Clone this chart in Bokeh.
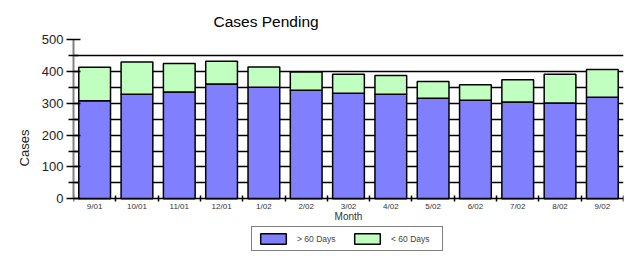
from bokeh.plotting import figure
from bokeh.models import ColumnDataSource, FixedTicker, Range1d
from bokeh.embed import file_html
from bokeh.resources import INLINE

months = ["9/01", "10/01", "11/01", "12/01", "1/02", "2/02", "3/02",
          "4/02", "5/02", "6/02", "7/02", "8/02", "9/02"]
over_60 = [308, 328, 335, 360, 350, 341, 331, 328, 316, 309, 304, 301, 319]
under_60 = [105, 101, 90, 72, 64, 57, 60, 59, 52, 49, 70, 90, 87]
series_names = ["> 60 Days", "< 60 Days"]
series_colors = ["#8080FF", "#C0FFC0"]
y_ticks = [0, 100, 200, 300, 400, 500]
y_minor = [50, 150, 250, 350, 450]
grid_levels = [50, 100, 150, 200, 250, 300, 350, 400, 450]

FONT = "Liberation Sans"

x = [i + 0.5 for i in range(len(months))]
src = ColumnDataSource(dict(x=x, over=over_60, under=under_60))

# the frame reaches down to the bottom of the page so the legend can sit
# under the axis; the value axis is bounded to 0..500
p = figure(width=633, height=256,
           x_range=Range1d(0, len(months)), y_range=Range1d(-181, 500),
           output_backend="svg", toolbar_location=None,
           min_border_left=73, min_border_right=10,
           min_border_top=39, min_border_bottom=0)
p.outline_line_color = None
p.background_fill_color = "white"

p.title.text = "Cases Pending"
p.title.align = "left"
p.title.offset = 140
p.title.standoff = 20
p.title.text_font = FONT
p.title.text_font_size = "15.5px"
p.title.text_font_style = "normal"
p.title.text_color = "black"

r = p.vbar_stack(["over", "under"], x="x", width=0.75, source=src,
                 fill_color=series_colors, line_color="black",
                 line_width=1.5, legend_label=series_names)

# x axis, pinned at value 0
xa = p.xaxis[0]
xa.fixed_location = 0
xa.ticker = FixedTicker(ticks=x, minor_ticks=list(range(len(months) + 1)))
xa.major_label_overrides = {xi: m for xi, m in zip(x, months)}
xa.major_tick_in = 0
xa.major_tick_out = 0
xa.minor_tick_in = 3
xa.minor_tick_out = 3
xa.minor_tick_line_color = "black"
xa.minor_tick_line_width = 1.5
xa.axis_line_color = "black"
xa.axis_line_width = 1.5
xa.major_label_text_font = FONT
xa.major_label_text_font_size = "8px"
xa.major_label_text_color = "#333333"
xa.major_label_standoff = 0
xa.axis_label = "Month"
xa.axis_label_text_font = FONT
xa.axis_label_text_font_size = "10px"
xa.axis_label_text_font_style = "normal"
xa.axis_label_text_color = "#333333"
xa.axis_label_standoff = -3

# y axis
ya = p.yaxis[0]
ya.bounds = (0, 500)
ya.ticker = FixedTicker(ticks=y_ticks, minor_ticks=y_minor)
ya.major_tick_in = 7
ya.major_tick_out = 7
ya.minor_tick_in = 5
ya.minor_tick_out = 5
ya.major_tick_line_color = "black"
ya.minor_tick_line_color = "black"
ya.major_tick_line_width = 1.3
ya.minor_tick_line_width = 1.3
ya.axis_line_color = "#808080"
ya.axis_line_width = 2
ya.major_label_text_font = FONT
ya.major_label_text_font_size = "13px"
ya.major_label_text_color = "#222222"
ya.major_label_standoff = 3
ya.axis_label = "Cases"
ya.axis_label_text_font = FONT
ya.axis_label_text_font_size = "13px"
ya.axis_label_text_font_style = "normal"
ya.axis_label_text_color = "#222222"
ya.axis_label_standoff = 7

p.xgrid.visible = False
p.ygrid.ticker = FixedTicker(ticks=grid_levels)
p.ygrid.grid_line_color = "black"
p.ygrid.grid_line_width = 1.3

legend = p.legend[0]
legend.orientation = "horizontal"
legend.location = (178, 5)
legend.glyph_width = 32
legend.glyph_height = 13
legend.label_height = 13
legend.label_width = 46
legend.label_standoff = 8
legend.spacing = 8
legend.padding = 5
legend.margin = 0
legend.label_text_font = FONT
legend.label_text_font_size = "8.5px"
legend.border_line_color = "black"
legend.border_line_width = 1.5
legend.background_fill_color = "white"
legend.background_fill_alpha = 1

open("out.html", "w").write(file_html(p, INLINE))
